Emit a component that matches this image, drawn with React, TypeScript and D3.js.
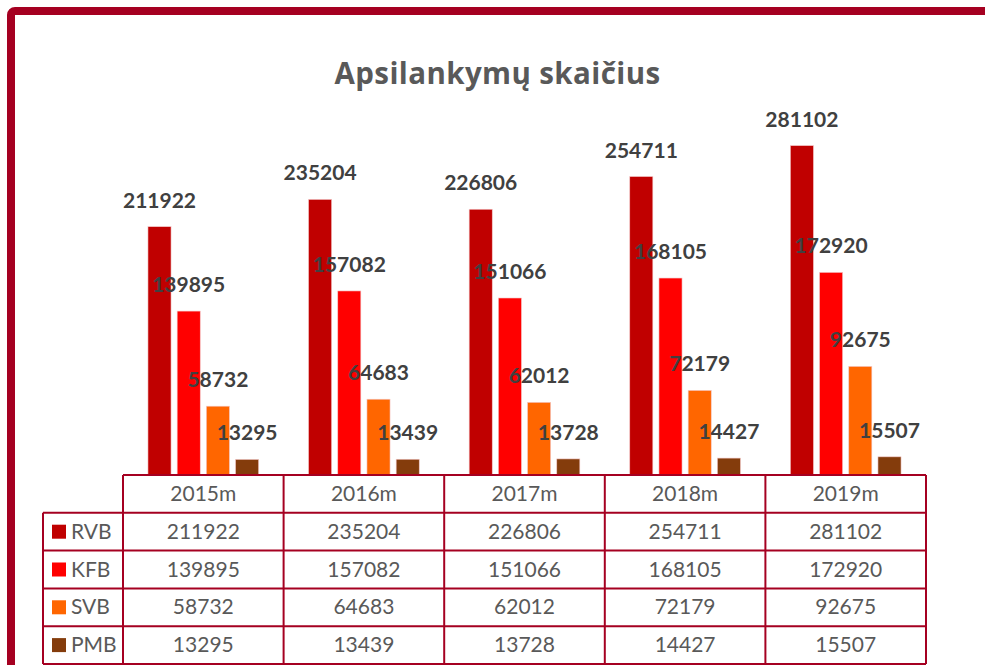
import React, { useEffect, useRef } from "react";
import * as d3 from "d3";

// data
const years = ["2015m", "2016m", "2017m", "2018m", "2019m"];
const seriesNames = ["RVB", "KFB", "SVB", "PMB"];
const rvb = [211922, 235204, 226806, 254711, 281102];
const kfb = [139895, 157082, 151066, 168105, 172920];
const svb = [58732, 64683, 62012, 72179, 92675];
const pmb = [13295, 13439, 13728, 14427, 15507];
const colors = ["#C00000", "#FF0000", "#FF6600", "#843C0C"];
const title = "Apsilankymų skaičius";

const App = () => {
  const svgRef = useRef<SVGSVGElement | null>(null);

  useEffect(() => {
    const width = 985;
    const height = 665;
    const font = "Lato, 'Open Sans', sans-serif";
    const frameColor = "#A50021";
    const lineColor = "#A50021";

    const values = [rvb, kfb, svb, pmb];
    const data = seriesNames.map((name, i) => ({
      name,
      color: colors[i],
      values: values[i],
    }));

    const tableLeft = 43;
    const plotLeft = 123;
    const plotRight = 926;
    const baseline = 475;
    const rowH = 37.8;

    const x0 = d3.scaleBand().domain(years).range([plotLeft, plotRight]);
    const x1 = d3
      .scaleBand()
      .domain(seriesNames)
      .range([0, x0.bandwidth()])
      .paddingInner(0.21)
      .paddingOuter(0.855);
    const y = d3.scaleLinear().domain([0, 300000]).range([baseline, 123.5]);

    const svg = d3
      .select(svgRef.current)
      .attr("width", width)
      .attr("height", height)
      .attr("viewBox", [0, 0, width, height].join(" "));

    svg.selectAll("*").remove();

    svg
      .append("rect")
      .attr("width", width)
      .attr("height", height)
      .attr("fill", "#fff");

    // frame
    svg
      .append("rect")
      .attr("x", 11)
      .attr("y", 11)
      .attr("width", 1000)
      .attr("height", 700)
      .attr("rx", 4)
      .attr("fill", "none")
      .attr("stroke", frameColor)
      .attr("stroke-width", 8);

    // title
    svg
      .append("text")
      .attr("x", 497.5)
      .attr("y", 84)
      .attr("text-anchor", "middle")
      .attr("font-family", "'Open Sans', Lato, sans-serif")
      .attr("font-weight", 700)
      .attr("font-size", 29.5)
      .attr("letter-spacing", 0.4)
      .attr("fill", "#595959")
      .text(title);

    // bars
    const rows = data.map((d) =>
      d.values.map((v, i) => ({ name: d.name, year: years[i], v }))
    );

    svg
      .append("g")
      .selectAll("g")
      .data(data)
      .join("g")
      .attr("fill", (d) => d.color)
      .selectAll("rect")
      .data((_, k) => rows[k])
      .join("rect")
      .attr("x", (d) => x0(d.year)! + x1(d.name)!)
      .attr("y", (d) => y(d.v))
      .attr("width", x1.bandwidth())
      .attr("height", (d) => baseline - y(d.v))
      .attr("stroke", "#f4c7c7")
      .attr("stroke-width", 0.6);

    // value labels
    svg
      .append("g")
      .selectAll("text")
      .data(rows.flat())
      .join("text")
      .attr("x", (d) => x0(d.year)! + x1(d.name)! + x1.bandwidth() / 2)
      .attr("y", (d) => y(d.v) - 19)
      .attr("text-anchor", "middle")
      .attr("font-family", font)
      .attr("font-weight", 700)
      .attr("font-size", 21)
      .attr("fill", "#404040")
      .text((d) => String(d.v));

    // data table
    const table = svg.append("g");
    const rowY = (r: number) => baseline + r * rowH;
    const nRows = seriesNames.length + 1;

    // horizontal lines
    table
      .append("line")
      .attr("x1", plotLeft)
      .attr("x2", plotRight)
      .attr("y1", rowY(0))
      .attr("y2", rowY(0))
      .attr("stroke", lineColor)
      .attr("stroke-width", 2);
    for (let r = 1; r <= nRows; r++) {
      table
        .append("line")
        .attr("x1", tableLeft)
        .attr("x2", plotRight)
        .attr("y1", rowY(r))
        .attr("y2", rowY(r))
        .attr("stroke", lineColor)
        .attr("stroke-width", 2);
    }
    // vertical lines
    table
      .append("line")
      .attr("x1", tableLeft)
      .attr("x2", tableLeft)
      .attr("y1", rowY(1))
      .attr("y2", rowY(nRows))
      .attr("stroke", lineColor)
      .attr("stroke-width", 2);
    years.concat(["end"]).forEach((yr, i) => {
      const xx = i < years.length ? x0(yr)! : plotRight;
      table
        .append("line")
        .attr("x1", xx)
        .attr("x2", xx)
        .attr("y1", rowY(0))
        .attr("y2", rowY(nRows))
        .attr("stroke", lineColor)
        .attr("stroke-width", 2);
    });

    // header
    table
      .selectAll("text.year")
      .data(years)
      .join("text")
      .attr("class", "year")
      .attr("x", (d) => x0(d)! + x0.bandwidth() / 2)
      .attr("y", rowY(0) + rowH / 2 + 7)
      .attr("text-anchor", "middle")
      .attr("font-family", font)
      .attr("font-size", 21)
      .attr("fill", "#595959")
      .text((d) => d);

    // rows
    data.forEach((s, r) => {
      const cy = rowY(r + 1) + rowH / 2;
      table
        .append("rect")
        .attr("x", 52)
        .attr("y", cy - 7)
        .attr("width", 14)
        .attr("height", 14)
        .attr("fill", s.color);
      table
        .append("text")
        .attr("x", 71)
        .attr("y", cy + 7)
        .attr("font-family", font)
        .attr("font-size", 21)
        .attr("fill", "#595959")
        .text(s.name);
      table
        .selectAll(null)
        .data(s.values)
        .join("text")
        .attr("x", (_, i) => x0(years[i])! + x0.bandwidth() / 2)
        .attr("y", cy + 7)
        .attr("text-anchor", "middle")
        .attr("font-family", font)
        .attr("font-size", 21)
        .attr("fill", "#595959")
        .text((d) => String(d));
    });
  }, []);

  return (
    <svg
      ref={svgRef}
      style={{ position: "absolute", left: 0, top: 0, display: "block" }}
    />
  );
};

export default App;
